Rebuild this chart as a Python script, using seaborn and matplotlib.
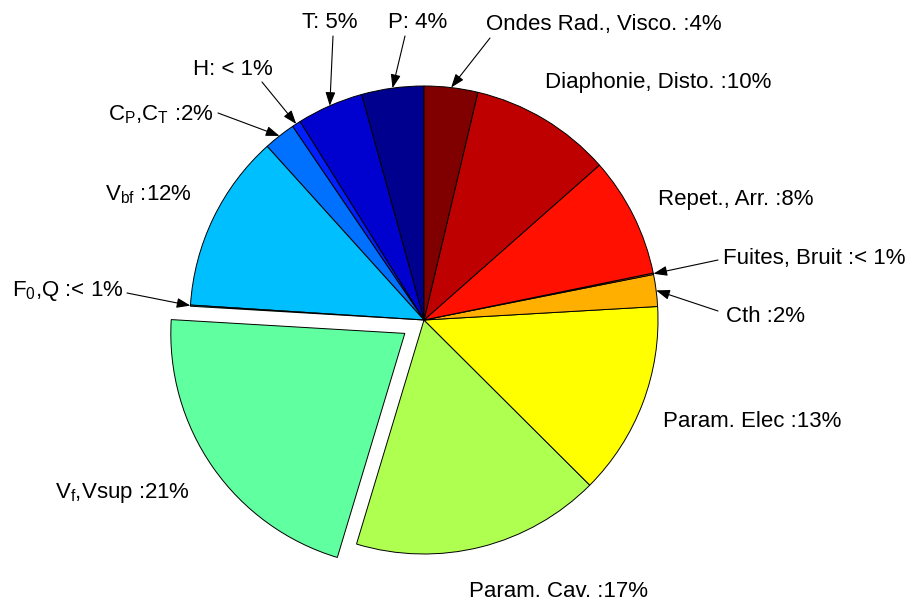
import numpy as np
import matplotlib
matplotlib.use("Agg")
import matplotlib.pyplot as plt
import seaborn as sns

# Error budget shares, counter-clockwise from 12 o'clock
names = [
    "P: ", "T: ", "H: ", r"C$_\mathrm{P}$,C$_\mathrm{T}$ :", r"V$_\mathrm{bf}$ :",
    r"F$_0$,Q :", r"V$_\mathrm{f}$,Vsup :", "Param. Cav. :", "Param. Elec :",
    "Cth :", "Fuites, Bruit :", "Repet., Arr. :", "Diaphonie, Disto. :",
    "Ondes Rad., Visco. :",
]
shares = [4.3, 4.6, 0.6, 2.2, 12.3, 0.08, 21.3, 17.2, 13.4, 2.2, 0.1, 8.3, 9.8, 3.7]
explode = [0, 0, 0, 0, 0, 0, 0.1, 0, 0, 0, 0, 0, 0, 0]
colors = [
    "#00008F", "#0000CF", "#0020FF", "#0070FF", "#00BFFF", "#10FFEF", "#60FF9F",
    "#AFFF50", "#FFFF00", "#FFAF00", "#FF6000", "#FF1000", "#BF0000", "#800000",
]

sns.set_style("white")
plt.rcParams["font.family"] = ["Liberation Sans", "DejaVu Sans"]
plt.rcParams["mathtext.fontset"] = "custom"
plt.rcParams["mathtext.rm"] = "Liberation Sans"

W, H = 908, 603
CX, CY, R = 424, 320, 234


def px(x, y):
    """Pixel position -> data coordinates (pie centred at origin, radius 1)."""
    return (x - CX) / R, (CY - y) / R


fig = plt.figure(figsize=(W / 100, H / 100), dpi=100)
ax = fig.add_axes([0, 0, 1, 1])

wedges, _ = ax.pie(
    shares, explode=explode, colors=sns.color_palette(colors), startangle=90,
    counterclock=True, radius=1, normalize=True,
    wedgeprops=dict(edgecolor="black", linewidth=0.7),
)

ax.set_aspect("equal", adjustable="datalim")
ax.set_xlim(px(0, 0)[0], px(W, 0)[0])
ax.set_ylim(px(0, H)[1], px(0, 0)[1])
ax.axis("off")

total = sum(shares)


def pct_text(v):
    p = 100 * v / total
    return "< 1%" if p < 1 else f"{round(p)}%"


# label baseline positions (pixels) and optional arrow tail
label_pos = [
    (388, 28, (405, 36)),
    (302, 28, (333, 36)),
    (193, 75, (262, 82)),
    (108, 120, (218, 113)),
    (105, 200, None),
    (12, 296, (127, 293)),
    (55, 498, None),
    (469, 597, None),
    (663, 427, None),
    (726, 322, (718, 311)),
    (723, 264, (718, 260)),
    (658, 205, None),
    (545, 88, None),
    (486, 30, (490, 38)),
]

for w, name, v, (lx, ly, tail) in zip(wedges, names, shares, label_pos):
    ax.text(*px(lx, ly), name + pct_text(v), fontsize=16, ha="left",
            va="baseline", color="black")
    if tail is not None:
        mid = np.deg2rad((w.theta1 + w.theta2) / 2)
        tip = (w.center[0] + w.r * np.cos(mid), w.center[1] + w.r * np.sin(mid))
        ax.annotate(
            "", xy=tip, xytext=px(*tail),
            arrowprops=dict(arrowstyle="-|>,head_length=0.55,head_width=0.2",
                            mutation_scale=15, color="black", lw=0.8,
                            shrinkA=0, shrinkB=0),
        )

fig.savefig("out.png", dpi=100, facecolor="white")
